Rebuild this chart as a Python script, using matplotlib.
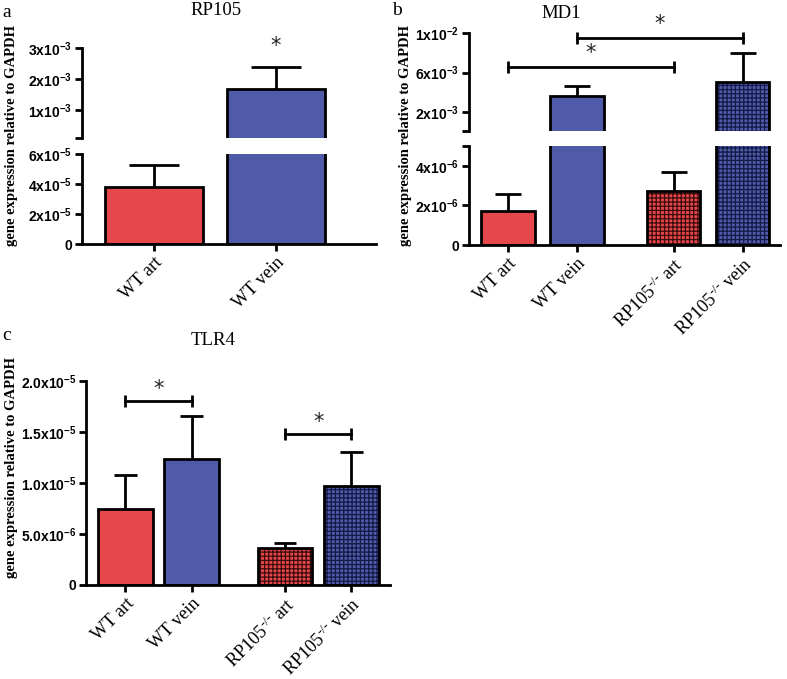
import matplotlib
matplotlib.use("Agg")
import matplotlib.pyplot as plt
import numpy as np

# ================= DATA =================
ylabel = "gene expression relative to GAPDH"

# panel a : RP105
rp105_groups = ["WT art", "WT vein"]
rp105_mean = [3.8e-5, 1.68e-3]
rp105_err = [5.25e-5, 2.39e-3]          # top of error bar

# panel b : MD1
md1_groups = ["WT art", "WT vein", r"RP105$^{\text{-/-}}$ art", r"RP105$^{\text{-/-}}$ vein"]
md1_mean = [1.72e-6, 3.6e-3, 2.73e-6, 5.1e-3]
md1_err = [2.58e-6, 4.6e-3, 3.7e-6, 7.95e-3]
md1_sig = [(0, 2, 6.6e-3), (1, 3, 9.5e-3)]

# panel c : TLR4
tlr4_groups = ["WT art", "WT vein", r"RP105$^{\text{-/-}}$ art", r"RP105$^{\text{-/-}}$ vein"]
tlr4_mean = [7.45e-6, 12.35e-6, 3.6e-6, 9.7e-6]
tlr4_err = [10.8e-6, 16.6e-6, 4.1e-6, 13.0e-6]
tlr4_sig = [(0, 1, 18.0e-6), (2, 3, 14.8e-6)]

# y ticks / labels
a_up_ticks = [1e-4, 1e-3, 2e-3, 3e-3]
a_up_labels = ["", "1x10^{-3}", "2x10^{-3}", "3x10^{-3}"]
a_lo_ticks = [0, 2e-5, 4e-5, 6e-5]
a_lo_labels = ["0", "2x10^{-5}", "4x10^{-5}", "6x10^{-5}"]
b_up_ticks = [1e-4, 2e-3, 6e-3, 1e-2]
b_up_labels = ["", "2x10^{-3}", "6x10^{-3}", "1x10^{-2}"]
b_lo_ticks = [0, 2e-6, 4e-6, 5e-6]
b_lo_labels = ["0", "2x10^{-6}", "4x10^{-6}", ""]
c_ticks = [0, 5e-6, 1e-5, 1.5e-5, 2e-5]
c_labels = ["0", "5.0x10^{-6}", "1.0x10^{-5}", "1.5x10^{-5}", "2.0x10^{-5}"]
# =========================================

RED = "#E5474A"
BLUE = "#4F5BA8"
RED_DARK = "#3a0c0c"
BLUE_DARK = "#141a45"

plt.rcParams["mathtext.fontset"] = "custom"
plt.rcParams["mathtext.rm"] = "Liberation Serif"
plt.rcParams["mathtext.it"] = "Liberation Serif:italic"
plt.rcParams["mathtext.bf"] = "Liberation Sans:bold"
plt.rcParams["hatch.linewidth"] = 0.9

W, H = 787, 679
fig = plt.figure(figsize=(W / 100, H / 100), dpi=100)


def px_axes(left, right, top, bottom):
    return fig.add_axes([left / W, 1 - bottom / H, (right - left) / W, (bottom - top) / H])


def style(ax, ticks, labels, ylim, show_x=True):
    for s in ["top", "right"]:
        ax.spines[s].set_visible(False)
    ax.spines["left"].set_linewidth(2)
    ax.spines["bottom"].set_linewidth(2)
    ax.set_facecolor("none")
    ax.set_ylim(*ylim)
    ax.set_yticks(ticks)
    ax.set_yticklabels([l if (l == "" or l == "0") else r"$\mathbf{" + l + "}$" for l in labels],
                       fontfamily="Liberation Sans", fontweight="bold", fontsize=10)
    ax.tick_params(axis="y", length=5, width=2, pad=2)
    ax.tick_params(axis="x", length=5, width=2, pad=2)
    if not show_x:
        ax.spines["bottom"].set_visible(False)
        ax.tick_params(axis="x", bottom=False, labelbottom=False)


def draw_bars(ax, pos, means, errs, hatched, width, cap):
    colors = [RED, BLUE] * 2
    darks = [RED_DARK, BLUE_DARK] * 2
    for i, (x, m) in enumerate(zip(pos, means)):
        if hatched[i]:
            ax.bar(x, m, width, color=colors[i], edgecolor=darks[i], linewidth=0, hatch="++++")
            ax.bar(x, m, width, fill=False, edgecolor="black", linewidth=2)
        else:
            ax.bar(x, m, width, color=colors[i], edgecolor="black", linewidth=2)
    pos = np.array(pos)
    ax.vlines(pos, means, errs, color="black", lw=2)
    ax.hlines(errs, pos - cap, pos + cap, color="black", lw=2)


def star(ax, x, y, off):
    ax.annotate("*", xy=(x, y), xytext=(0, off), textcoords="offset points",
                ha="center", va="center", fontsize=15, color="#222222",
                annotation_clip=False)


def bracket(ax, x1, x2, y, off):
    ax.plot([x1, x2], [y, y], color="black", lw=2, marker="|", ms=9, mew=2,
            clip_on=False)
    star(ax, (x1 + x2) / 2, y, off)


def xlabels(ax, pos, labels):
    ax.set_xticks(pos)
    ax.set_xticklabels(labels, rotation=45, ha="right", rotation_mode="anchor",
                       fontfamily="Liberation Serif", fontsize=13.2)


# ---------- panel a ----------
pos_a = [0, 1]
a_lo = px_axes(82, 376, 154, 244)
a_up = px_axes(82, 376, 48, 138)
for ax in (a_lo, a_up):
    draw_bars(ax, pos_a, rp105_mean, rp105_err, [False, False], 0.8, 0.205)
    ax.set_xlim(-0.59, 1.82)
style(a_lo, a_lo_ticks, a_lo_labels, (0, 6e-5))
style(a_up, a_up_ticks, a_up_labels, (1e-4, 3e-3), show_x=False)
xlabels(a_lo, pos_a, rp105_groups)
star(a_up, 1, rp105_err[1], 15)

# ---------- panel b ----------
pos4 = [0, 1, 2.4, 3.4]
hatch4 = [False, False, True, True]
b_lo = px_axes(469, 780, 146, 245)
b_up = px_axes(469, 780, 33, 131)
for ax in (b_lo, b_up):
    draw_bars(ax, pos4, md1_mean, md1_err, hatch4, 0.77, 0.19)
    ax.set_xlim(-0.565, 3.94)
style(b_lo, b_lo_ticks, b_lo_labels, (0, 5e-6))
style(b_up, b_up_ticks, b_up_labels, (1e-4, 1e-2), show_x=False)
xlabels(b_lo, pos4, md1_groups)
for i, j, y in md1_sig:
    bracket(b_up, pos4[i], pos4[j], y, 10)

# ---------- panel c ----------
c_ax = px_axes(86, 390, 381, 585)
draw_bars(c_ax, pos4, tlr4_mean, tlr4_err, hatch4, 0.82, 0.17)
c_ax.set_xlim(-0.59, 3.98)
style(c_ax, c_ticks, c_labels, (0, 2e-5))
xlabels(c_ax, pos4, tlr4_groups)
for i, j, y in tlr4_sig:
    bracket(c_ax, pos4[i], pos4[j], y, 9)

# ---------- text ----------
for x, y in [(12, 135), (405, 136), (12, 468)]:
    fig.text(x / W, 1 - y / H, ylabel, rotation=90, ha="center", va="center",
             fontfamily="Liberation Serif", fontweight="bold", fontsize=10.5)

for x, y, t in [(216, 15, "RP105"), (561, 18, "MD1"), (213, 345, "TLR4")]:
    fig.text(x / W, 1 - y / H, t, ha="center", va="baseline",
             fontfamily="Liberation Serif", fontsize=13.5)

for x, y, t in [(2, 17, "a"), (392, 15, "b"), (2, 340, "c")]:
    fig.text(x / W, 1 - y / H, t, ha="left", va="baseline",
             fontfamily="Liberation Serif", fontsize=14)

fig.savefig("out.png", dpi=100)
